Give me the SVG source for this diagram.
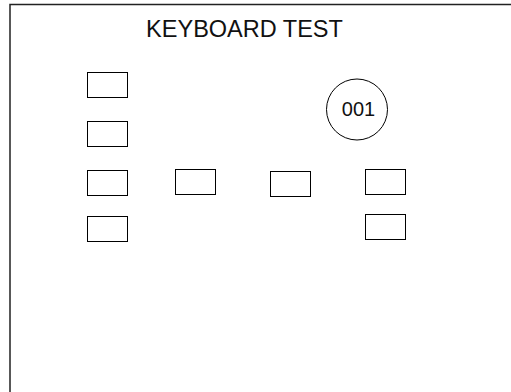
<svg xmlns="http://www.w3.org/2000/svg" width="511" height="392" viewBox="0 0 511 392">
<style>
.key{fill:#fff;stroke:#000;stroke-width:1}
.t{font-family:"Liberation Sans",Arial,sans-serif;fill:#111}
</style>
<rect x="0" y="0" width="511" height="392" fill="#fff"/>
<rect id="frame" x="10" y="4.5" width="520" height="400" fill="none" stroke="#222" stroke-width="1.5"/>
<text id="title" class="t" x="244.5" y="37" font-size="23.5" text-anchor="middle">KEYBOARD TEST</text>
<g id="counter">
<circle cx="357" cy="109.5" r="30.5" fill="#fff" stroke="#000" stroke-width="1"/>
<text class="t" x="358.5" y="116" font-size="20" text-anchor="middle">001</text>
</g>
<g id="key1"><rect class="key" x="87.5" y="72.5" width="40" height="25"/></g>
<g id="key2"><rect class="key" x="87.5" y="121.5" width="40" height="25"/></g>
<g id="key3"><rect class="key" x="87.5" y="170.5" width="40" height="25"/></g>
<g id="key4"><rect class="key" x="87.5" y="216.5" width="40" height="25"/></g>
<g id="key5"><rect class="key" x="175.5" y="169.5" width="40" height="25"/></g>
<g id="key6"><rect class="key" x="270.5" y="171.5" width="40" height="25"/></g>
<g id="key7"><rect class="key" x="365.5" y="169.5" width="40" height="25"/></g>
<g id="key8"><rect class="key" x="365.5" y="214.5" width="40" height="25"/></g>
<g id="connectors"></g>
</svg>
